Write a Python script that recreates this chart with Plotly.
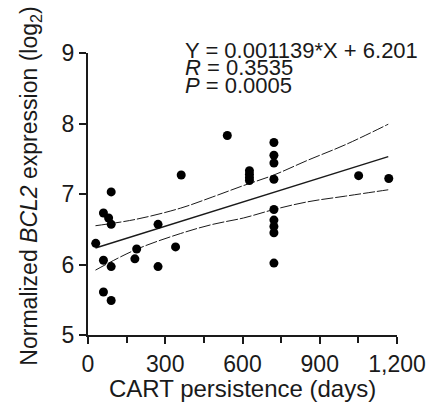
import plotly.graph_objects as go

# CART persistence (days) vs normalized BCL2 expression (log2)
days = [30, 60, 80, 90, 90, 60, 90, 60, 90, 182, 189, 272, 272, 340, 362, 541,
        627, 627, 627, 627, 722, 722, 722, 722, 722, 722, 722, 722, 722,
        1051, 1168]
bcl2 = [6.30, 6.73, 6.66, 6.57, 7.03, 6.06, 5.97, 5.61, 5.49, 6.08, 6.22, 6.57,
        5.97, 6.25, 7.27, 7.83, 7.33, 7.28, 7.23, 7.19, 7.73, 7.55, 7.44, 7.21,
        6.78, 6.63, 6.54, 6.45, 6.02, 7.26, 7.22]

# linear fit as printed on the chart
slope = 0.001139
intercept = 6.201
fit_x = [29, 1166]

# 95% confidence band
band_x = [29, 185, 360, 485, 604, 722, 854, 1000, 1166]
band_hi = [6.55, 6.64, 6.80, 6.96, 7.12, 7.27, 7.48, 7.70, 7.99]
band_lo = [5.92, 6.21, 6.44, 6.57, 6.66, 6.78, 6.89, 6.97, 7.06]

FONT = "Liberation Sans, Arial, sans-serif"
INK = "#1a1a1a"

fig = go.Figure()

for yy in (band_hi, band_lo):
    fig.add_trace(go.Scatter(
        x=band_x, y=yy, mode="lines", line_shape="spline",
        line=dict(color=INK, width=1, dash="12px,2px"),
        showlegend=False, hoverinfo="skip",
    ))

fig.add_trace(go.Scatter(
    x=fit_x, y=[slope * v + intercept for v in fit_x], mode="lines",
    line=dict(color=INK, width=1.4), showlegend=False,
))

fig.add_trace(go.Scatter(
    x=days, y=bcl2, mode="markers",
    marker=dict(color="black", size=9), cliponaxis=False, showlegend=False,
))

axis_common = dict(
    showgrid=False, zeroline=False, showline=True, linecolor=INK, linewidth=2,
    ticks="outside", tickcolor=INK, tickwidth=2, ticklen=7,
    tickfont=dict(family=FONT, size=23, color=INK),
    ticklabeloverflow="allow",
)

fig.update_xaxes(
    range=[0, 1200], tick0=0, dtick=300, tickformat=",d",
    minor=dict(dtick=150, ticks="outside", ticklen=6, tickcolor=INK, tickwidth=2),
    **axis_common,
)
fig.update_yaxes(range=[5, 9], tick0=5, dtick=1, **axis_common)

# axis titles
fig.add_annotation(
    text="CART persistence (days)", xref="paper", yref="paper",
    x=0.5, y=-0.188, xanchor="center", yanchor="middle", showarrow=False,
    font=dict(family=FONT, size=24, color=INK),
)
fig.add_annotation(
    text="Normalized <i>BCL2</i> expression (log<sub>2</sub>)",
    xref="paper", yref="paper", x=-0.186, y=0.528, textangle=-90,
    xanchor="center", yanchor="middle", showarrow=False,
    font=dict(family=FONT, size=23, color=INK),
)

# regression stats
stats = ["Y = 0.001139*X + 6.201", "<i>R</i> = 0.3535", "<i>P</i> = 0.0005"]
stat_y = [1.0106, 0.9486, 0.8848]
for txt, yy in zip(stats, stat_y):
    fig.add_annotation(
        text=txt, xref="paper", yref="paper", x=0.307, y=yy,
        xanchor="left", yanchor="middle", showarrow=False,
        font=dict(family=FONT, size=22, color=INK),
    )

fig.update_layout(
    width=438, height=410,
    margin=dict(l=88, r=28, t=53, b=75),
    plot_bgcolor="white", paper_bgcolor="white",
)

# page body has a default 8px margin; drop it so the figure sits at 0,0
fig.write_html(
    "out.html",
    config={"displayModeBar": False},
    post_script="document.body.style.margin='0';",
)
